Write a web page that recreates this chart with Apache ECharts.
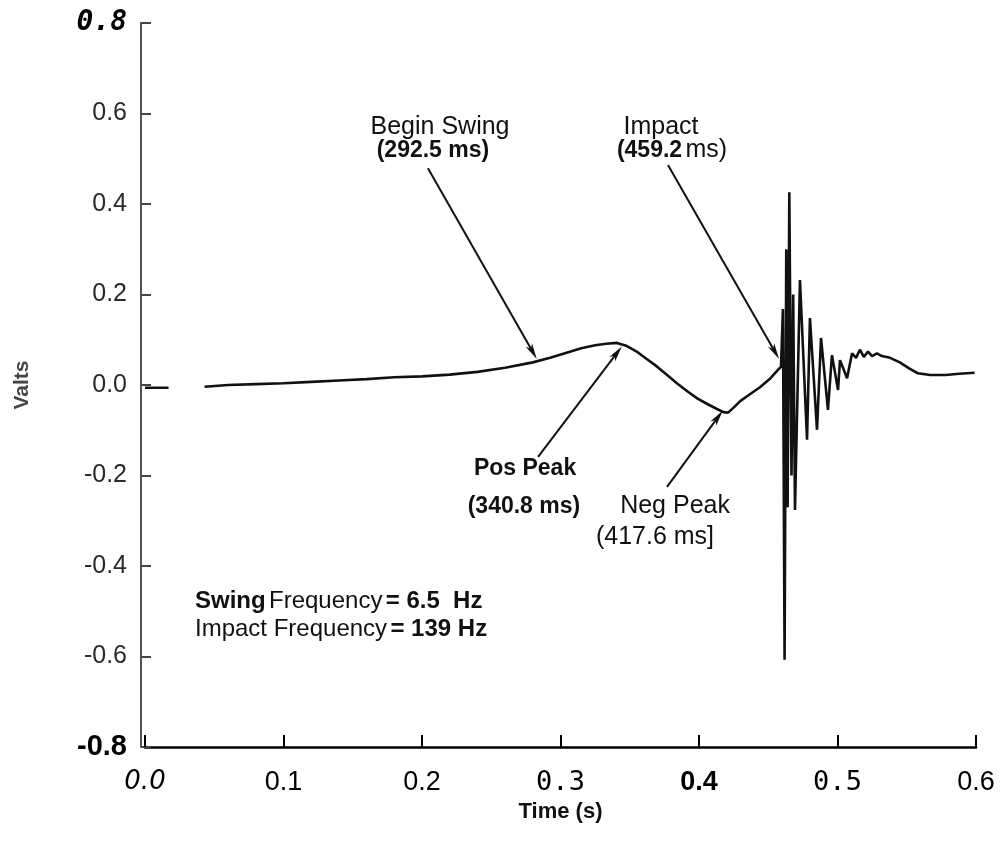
<!DOCTYPE html>
<html>
<head>
<meta charset="utf-8">
<script src="https://cdn.jsdelivr.net/npm/echarts@6/dist/echarts.min.js"></script>
<style>
html,body{margin:0;padding:0;background:#fff;}
#chart{width:1001px;height:841px;}
</style>
</head>
<body>
<div id="chart"></div>
<script>
// ---- data ----
const timeS = [
  0.000, 0.017, 0.030, 0.043, 0.060, 0.080, 0.100, 0.120, 0.140, 0.160, 0.180, 0.200,
  0.220, 0.240, 0.260, 0.280, 0.2925, 0.305, 0.315, 0.325, 0.333, 0.3408, 0.348, 0.355,
  0.362, 0.370, 0.377, 0.384, 0.392, 0.399, 0.406, 0.413, 0.4176, 0.421, 0.425, 0.430,
  0.437, 0.444, 0.451, 0.4565, 0.4592, 0.4606, 0.4618, 0.4630, 0.4640, 0.4652, 0.4668,
  0.4680, 0.4693, 0.4729, 0.4780, 0.4801, 0.4852, 0.4881, 0.4931, 0.4960, 0.5004, 0.5018,
  0.5069, 0.5105, 0.5134, 0.5162, 0.5190, 0.5220, 0.5250, 0.5285, 0.5320, 0.5380, 0.5450,
  0.5520, 0.5580, 0.5670, 0.5780, 0.5880, 0.5990
];
const volts = [
  -0.006, -0.006, null, -0.004, 0.000, 0.002, 0.004, 0.007, 0.010, 0.013, 0.017, 0.019,
  0.023, 0.029, 0.038, 0.050, 0.060, 0.072, 0.081, 0.088, 0.091, 0.093, 0.086, 0.074,
  0.058, 0.040, 0.022, 0.004, -0.015, -0.030, -0.042, -0.053, -0.060, -0.061, -0.050, -0.035,
  -0.020, -0.005, 0.013, 0.032, 0.040, 0.168, -0.607, 0.300, -0.270, 0.426, -0.200,
  0.200, -0.276, 0.232, -0.121, 0.148, -0.099, 0.104, -0.055, 0.066, -0.011, 0.055,
  0.015, 0.070, 0.060, 0.078, 0.062, 0.074, 0.064, 0.070, 0.064, 0.060, 0.050,
  0.036, 0.026, 0.022, 0.022, 0.025, 0.027
];
const xTickLabels = ['0.0', '0.1', '0.2', '0.3', '0.4', '0.5', '0.6'];
const yTickLabels = ['-0.8', '-0.6', '-0.4', '-0.2', '0.0', '0.2', '0.4', '0.6', '0.8'];

// annotation texts and the data points they sit at
const annotTexts = ['Begin Swing', '(292.5 ms)', 'Impact', '(459.2 ms)', 'Pos Peak', '(340.8 ms)', 'Neg Peak', '(417.6 ms]'];
const annotTimes = [0.2130, 0.2079, 0.3726, 0.3805, 0.2744, 0.2736, 0.3827, 0.3682];
const annotVolts = [0.5695, 0.5188, 0.5695, 0.5188, -0.1854, -0.2693, -0.2671, -0.3355];
const noteLines = ['Swing Frequency = 6.5  Hz', 'Impact Frequency = 139 Hz'];
const noteTimes = [0.0361, 0.0361];
const noteVolts = [-0.479, -0.541];
// arrows: [fromTime, fromVolts, toTime, toVolts]
const arrowFromT = [0.2043, 0.3776, 0.2838, 0.3769];
const arrowFromV = [0.479, 0.486, -0.159, -0.225];
const arrowToT = [0.2800, 0.4549, 0.3408, 0.4137];
const arrowToV = [0.073, 0.073, 0.071, -0.071];

// ---- chart ----
const seriesData = timeS.map((t, i) => [t, volts[i] === null ? '-' : volts[i]]);
const sans = '"Liberation Sans", Arial, sans-serif';

const annotRich = {
  r: { fontFamily: sans, fontSize: 25, color: '#111' },
  b: { fontFamily: sans, fontSize: 23, fontWeight: 'bold', color: '#111' },
  nr: { fontFamily: sans, fontSize: 24, color: '#111' },
  nb: { fontFamily: sans, fontSize: 24, fontWeight: 'bold', color: '#111' }
};
const annotFormats = [
  '{r|Begin Swing}', '{b|(292.5 ms)}', '{r|Impact}', '{b|(459.2} {r|ms)}',
  '{b|Pos Peak}', '{b|(340.8 ms)}', '{r|Neg Peak}', '{r|(417.6 ms]}'
];

const markPts = annotTexts.map((txt, i) => ({
  coord: [annotTimes[i], annotVolts[i]],
  label: { formatter: annotFormats[i], position: 'inside', rich: annotRich }
}));
noteLines.forEach((txt, i) => {
  const f = i === 0
    ? '{nb|Swing} {nr|Frequency} {nb|= 6.5  Hz}'
    : '{nr|Impact Frequency} {nb|= 139 Hz}';
  markPts.push({
    coord: [noteTimes[i], noteVolts[i]],
    label: { formatter: f, position: 'right', distance: 0, rich: annotRich }
  });
});

const arrows = arrowFromT.map((t, i) => [
  { coord: [t, arrowFromV[i]] },
  { coord: [arrowToT[i], arrowToV[i]] }
]);

const xRich = {
  s0: { fontFamily: '"DejaVu Sans"', fontStyle: 'italic', fontSize: 26, color: '#000' },
  s1: { fontFamily: sans, fontSize: 27, color: '#000' },
  s2: { fontFamily: sans, fontSize: 27, color: '#000' },
  s3: { fontFamily: '"DejaVu Sans Mono"', fontSize: 27, color: '#000' },
  s4: { fontFamily: sans, fontWeight: 'bold', fontSize: 27, color: '#000' },
  s5: { fontFamily: '"DejaVu Sans Mono"', fontSize: 27, color: '#000' },
  s6: { fontFamily: sans, fontSize: 27, color: '#000' }
};
const yRich = {
  bold: { fontFamily: sans, fontWeight: 'bold', fontSize: 29, color: '#000' },
  reg: { fontFamily: sans, fontSize: 25, color: '#2a2a2a' },
  top: { fontFamily: '"DejaVu Sans Mono"', fontWeight: 'bold', fontStyle: 'italic', fontSize: 28, color: '#000' }
};

const chart = echarts.init(document.getElementById('chart'), null, { renderer: 'canvas' });
chart.setOption({
  animation: false,
  backgroundColor: '#fff',
  grid: { left: 145, right: 25, top: 23, bottom: 94, containLabel: false },
  xAxis: {
    type: 'value', min: 0, max: 0.6, interval: 0.1,
    name: 'Time (s)', nameLocation: 'middle', nameGap: 46,
    nameTextStyle: { fontFamily: sans, fontWeight: 'bold', fontSize: 22, color: '#111' },
    axisLine: { onZero: false, lineStyle: { color: '#000', width: 2.5 } },
    axisTick: { inside: true, length: 12, lineStyle: { color: '#000', width: 2 } },
    axisLabel: {
      margin: 22,
      formatter: v => { const i = Math.round(v * 10); return '{s' + i + '|' + xTickLabels[i] + '}'; },
      rich: xRich
    },
    splitLine: { show: false }
  },
  yAxis: {
    type: 'value', min: -0.8, max: 0.8, interval: 0.2, offset: 4,
    name: 'Valts', nameLocation: 'middle', nameGap: 108,
    nameTextStyle: { fontFamily: sans, fontWeight: 'bold', fontSize: 21, color: '#444' },
    axisLine: { onZero: false, lineStyle: { color: '#555', width: 2 } },
    axisTick: { inside: true, length: 10, lineStyle: { color: '#444', width: 2 } },
    axisLabel: {
      margin: 14,
      formatter: v => {
        const i = Math.round(v * 5) + 4;
        const key = i === 0 ? 'bold' : (i === 8 ? 'top' : 'reg');
        return '{' + key + '|' + yTickLabels[i] + '}';
      },
      rich: yRich
    },
    splitLine: { show: false }
  },
  series: [{
    type: 'line',
    data: seriesData,
    showSymbol: false,
    connectNulls: false,
    lineStyle: { color: '#111', width: 2.6 },
    markPoint: {
      symbol: 'circle', symbolSize: 0,
      itemStyle: { color: 'rgba(0,0,0,0)' },
      data: markPts
    },
    markLine: {
      silent: true,
      symbol: ['none', 'path://M5 0 L10 22 L5 16 L0 22 Z'],
      symbolKeepAspect: true,
      symbolSize: 16,
      lineStyle: { color: '#111', width: 2, type: 'solid' },
      label: { show: false },
      data: arrows
    }
  }]
});
</script>
</body>
</html>
